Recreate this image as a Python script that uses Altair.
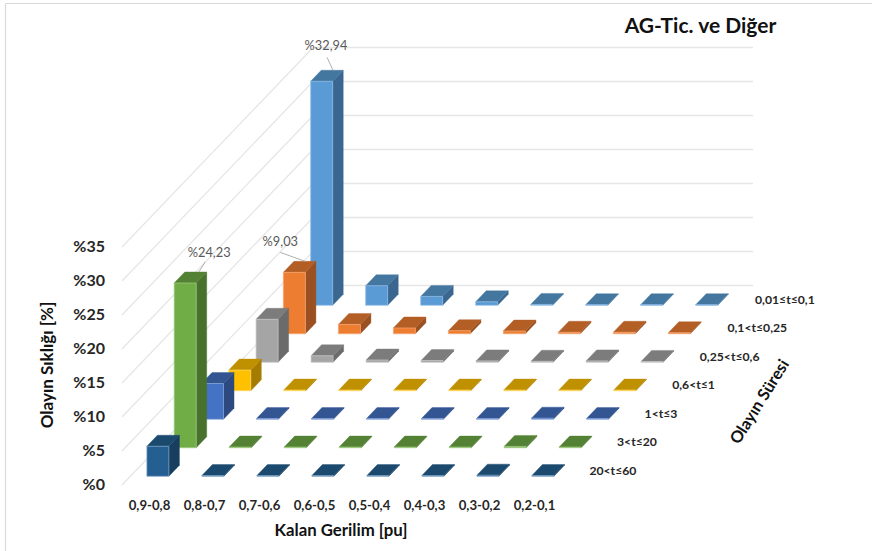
import altair as alt
import pandas as pd

# Categories
voltage_bins = ["0,9-0,8", "0,8-0,7", "0,7-0,6", "0,6-0,5", "0,5-0,4", "0,4-0,3", "0,3-0,2", "0,2-0,1"]
duration_bins = ["0,01≤t≤0,1", "0,1<t≤0,25", "0,25<t≤0,6", "0,6<t≤1", "1<t≤3", "3<t≤20", "20<t≤60"]
percent_ticks = [0, 5, 10, 15, 20, 25, 30, 35]

# Event frequency (%) per duration band, one value per voltage bin
s_001_01 = [32.94, 2.87, 1.30, 0.50, 0.12, 0.08, 0.08, 0.08]
s_01_025 = [9.03, 1.37, 0.85, 0.45, 0.40, 0.22, 0.22, 0.15]
s_025_06 = [6.32, 0.95, 0.33, 0.25, 0.20, 0.15, 0.20, 0.12]
s_06_1 = [3.04, 0.10, 0.10, 0.10, 0.10, 0.10, 0.10, 0.10]
s_1_3 = [5.25, 0.10, 0.10, 0.10, 0.10, 0.10, 0.16, 0.10]
s_3_20 = [24.23, 0.10, 0.10, 0.10, 0.10, 0.10, 0.20, 0.10]
s_20_60 = [4.41, 0.10, 0.10, 0.10, 0.10, 0.10, 0.16, 0.10]
series = [s_001_01, s_01_025, s_025_06, s_06_1, s_1_3, s_3_20, s_20_60]

# front, top and side shades of each duration band
front = ["#5B9BD5", "#ED7D31", "#A5A5A5", "#FFC000", "#4472C4", "#70AD47", "#255E91"]
top = ["#44779F", "#B35E25", "#7C7C7C", "#BF9000", "#335693", "#548235", "#1C4A6E"]
side = ["#3A668F", "#9A5020", "#6B6B6B", "#A67C00", "#2C4A7F", "#49712E", "#183E5F"]
edge = ["#8DBBE6", "#F6A673", "#C6C6C6", "#FFD966", "#8AA6DB", "#A3CF85", "#7CA3C6"]

GRID = "#E6E6E6"
FRAME = "#D9D9D9"
DARK = "#1A1A1A"
FONT = "Lato"

# Oblique projection of the chart's 3D space onto the page
ORIGIN_X, ORIGIN_Y = 122.0, 485.0
COL_DX, ROW_DX, ROW_DY, PCT_DY = 55.0, 27.3, 28.5, 6.8
BAR_W, BAR_D = 0.40, 0.386
N_COLS, N_ROWS, MAX_PCT = len(voltage_bins), len(duration_bins), percent_ticks[-1]


def project(col, depth, pct):
    return [ORIGIN_X + col * COL_DX + depth * ROW_DX, ORIGIN_Y - depth * ROW_DY - pct * PCT_DY]


def face(points, fill, stroke, width):
    ring = points + [points[0]]
    return {
        "type": "Feature",
        "geometry": {"type": "Polygon", "coordinates": [ring]},
        "properties": {"fill": fill, "stroke": stroke, "sw": width},
    }


# Bars, painted from the back row forward and right to left
faces = []
for r, values in enumerate(series):
    for c in reversed(range(N_COLS)):
        v = values[c]
        u0 = c + (1 - BAR_W) / 2
        u1 = u0 + BAR_W
        d0 = (N_ROWS - 1 - r) + (1 - BAR_D) / 2
        d1 = d0 + BAR_D
        faces.append(face([project(u1, d0, 0), project(u1, d1, 0), project(u1, d1, v), project(u1, d0, v)],
                          side[r], side[r], 0.4))
        faces.append(face([project(u0, d0, v), project(u1, d0, v), project(u1, d1, v), project(u0, d1, v)],
                          top[r], top[r], 0.4))
        faces.append(face([project(u0, d0, 0), project(u1, d0, 0), project(u1, d0, v), project(u0, d0, v)],
                          front[r], edge[r], 0.7))

bars = alt.Chart(alt.Data(values=faces)).mark_geoshape().project(type="identity", scale=1, translate=[0, 0]).encode(
    fill=alt.Fill("properties.fill:N", scale=None),
    stroke=alt.Stroke("properties.stroke:N", scale=None),
    strokeWidth=alt.StrokeWidth("properties.sw:Q", scale=None),
)

x_scale = alt.Scale(domain=[0, 872], range=[0, 872], nice=False, zero=False)
y_scale = alt.Scale(domain=[0, 551], range=[0, 551], nice=False, zero=False)


def segments(rows, color, width):
    frame = pd.DataFrame(rows, columns=["x", "y", "x2", "y2"])
    return alt.Chart(frame).mark_rule(color=color, strokeWidth=width).encode(
        x=alt.X("x:Q", scale=x_scale, axis=None),
        y=alt.Y("y:Q", scale=y_scale, axis=None),
        x2="x2:Q",
        y2="y2:Q",
    )


# Wall gridlines: along the side wall, then along the back wall
grid_rows = []
for p in percent_ticks:
    a, b, c = project(0, 0, p), project(0, N_ROWS, p), project(N_COLS, N_ROWS, p)
    grid_rows.append(a + b)
    grid_rows.append(b + c)
grid = segments(grid_rows, GRID, 1.3)

frame_lines = segments([[5.5, 3.5, 872, 3.5], [5.5, 3.5, 5.5, 551]], FRAME, 1.2)

# Value labels with their leader lines: (row, col, leader start, leader end, label centre),
# all offsets measured from the bar's top face
callouts = [
    (0, 0, (-4.6, 0), (-10.6, -13), (-11.6, -24.3)),
    (5, 0, (-2.4, 0), (4, -10), (8, -19)),
    (1, 0, (-5, 0), (-30, -9), (-30, -19)),
]
leader_rows = []
label_rows = []
for r, c, start, end, centre in callouts:
    v = series[r][c]
    ax, ay = project(c + 0.6, (N_ROWS - 1 - r) + 0.69, v)
    leader_rows.append([ax + start[0], ay + start[1], ax + end[0], ay + end[1]])
    label_rows.append({"x": ax + centre[0], "y": ay + centre[1], "t": "%" + f"{v:.2f}".replace(".", ",")})
leader_lines = segments(leader_rows, "#A6A6A6", 0.9)


def text_layer(rows, size, color=DARK, bold=True, align="center", angle=0):
    return alt.Chart(pd.DataFrame(rows)).mark_text(
        font=FONT, fontSize=size, fontWeight="bold" if bold else "normal",
        color=color, align=align, baseline="middle", angle=angle,
    ).encode(
        x=alt.X("x:Q", scale=x_scale, axis=None),
        y=alt.Y("y:Q", scale=y_scale, axis=None),
        text="t:N",
    )


value_labels = text_layer(label_rows, 12.8, color="#595959", bold=False)

y_labels = text_layer(
    [{"x": ORIGIN_X - 17, "y": project(0, 0, p)[1], "t": f"%{p}"} for p in percent_ticks],
    16, color="#262626", align="right",
)

x_labels = text_layer(
    [{"x": project(i + 0.5, 0, 0)[0], "y": 505.5, "t": name} for i, name in enumerate(voltage_bins)],
    13.2, color="#262626",
)

row_labels = text_layer(
    [{"x": 755 - 27.6 * i, "y": 299.7 + 28.5 * i, "t": name} for i, name in enumerate(duration_bins)],
    12.2, color="#262626", align="left",
)

title = text_layer([{"x": 700.5, "y": 27, "t": "AG-Tic. ve Diğer"}], 21, color="#111111")
x_title = text_layer([{"x": 341, "y": 531, "t": "Kalan Gerilim [pu]"}], 16.8, color="#111111")
y_title = text_layer([{"x": 48, "y": 365, "t": "Olayın Sıklığı [%]"}], 17, color="#111111", angle=270)
row_title = text_layer([{"x": 760, "y": 402, "t": "Olayın Süresi"}], 16.5, color="#111111", angle=302)

chart = alt.layer(
    frame_lines, grid, bars, leader_lines, value_labels,
    y_labels, x_labels, row_labels, title, x_title, y_title, row_title,
).resolve_scale(x="shared", y="shared").properties(
    width=872, height=551, padding=0, background="white", autosize=alt.AutoSizeParams(type="none"),
).configure_view(stroke=None)

chart.save("out.html", embed_options={"renderer": "svg", "actions": False})
